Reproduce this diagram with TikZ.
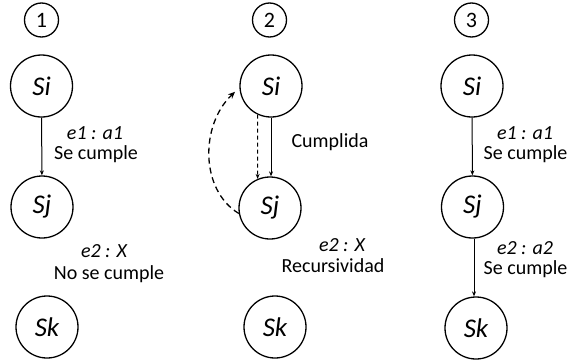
\documentclass[tikz,border=0pt]{standalone}
\usepackage{fontspec}
\setmainfont{Carlito}
\usetikzlibrary{arrows.meta}
\begin{document}
\begin{tikzpicture}[x=1pt,y=1pt,
  state/.style={circle,draw,line width=1.3pt,minimum size=62pt,inner sep=0pt,font=\fontsize{27}{30}\selectfont\itshape},
  num/.style={circle,draw,line width=1.3pt,minimum size=34pt,inner sep=0pt,font=\fontsize{22}{24}\selectfont},
  lbl/.style={font=\fontsize{20}{22}\selectfont,inner sep=0pt},
  ilbl/.style={font=\fontsize{20}{22}\selectfont\itshape,inner sep=0pt},
  arr/.style={line width=1pt,-{Stealth[length=5pt,width=4pt]}},
  darr/.style={line width=1.3pt,dash pattern=on 6pt off 4pt,-{Stealth[length=7pt,width=6pt]}}]
\useasboundingbox (0,0) rectangle (570,-359);
% column 1
\node[num] (n1) at (41.5,-20) {1};
\node[state] (Si1) at (41.5,-86) {Si};
\node[state] (Sj1) at (42,-207) {Sj};
\node[state] (Sk1) at (47,-327) {Sk};
\draw[arr] (Si1) -- (Sj1);
\node[ilbl] (l1a) at (95,-133) {e1 : a1};
\node[lbl] (l1b) at (96,-154) {Se cumple};
\node[ilbl] (l1c) at (104,-251) {e2 : X};
\node[lbl] (l1d) at (109,-274) {No se cumple};
% column 2
\node[num] (n2) at (269.5,-20) {2};
\node[state] (Si2) at (271,-86) {Si};
\node[state] (Sj2) at (270,-208) {Sj};
\node[state] (Sk2) at (275,-327) {Sk};
\draw[arr] (Si2.south -| 271,0) -- (Sj2.north -| 271,0);
\draw[line width=1pt,dash pattern=on 4pt off 3pt,-{Stealth[length=5pt,width=4pt]}] (Si2.245) -- (Sj2.113);
\draw[darr,shorten >=6pt] (Sj2.190) .. controls (200,-190) and (200,-125) .. (Si2.183);
\node[lbl] (l2a) at (330,-142) {Cumplida};
\node[ilbl] (l2b) at (342,-245) {e2 : X};
\node[lbl] (l2c) at (333,-266) {Recursividad};
% column 3
\node[num] (n3) at (471.5,-20) {3};
\node[state] (Si3) at (472,-86) {Si};
\node[state] (Sj3) at (472.5,-207) {Sj};
\node[state] (Sk3) at (476,-328) {Sk};
\draw[arr] (Si3) -- (Sj3);
\draw[arr] (Sj3.south -| 474,0) -- (Sk3.north -| 474,0);
\node[ilbl] (l3a) at (525,-133) {e1 : a1};
\node[lbl] (l3b) at (525.5,-154) {Se cumple};
\node[ilbl] (l3c) at (525,-248) {e2 : a2};
\node[lbl] (l3d) at (525.5,-269) {Se cumple};
\end{tikzpicture}
\end{document}
